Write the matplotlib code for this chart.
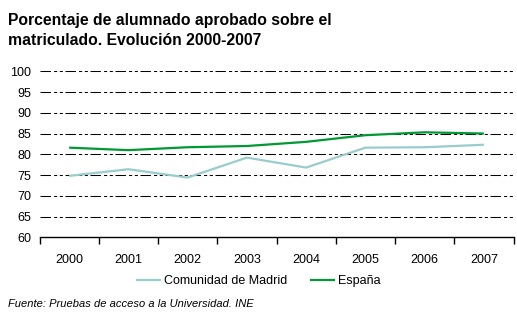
import matplotlib
matplotlib.use("Agg")
import matplotlib.pyplot as plt

years = ["2000", "2001", "2002", "2003", "2004", "2005", "2006", "2007"]
madrid = [74.8, 76.4, 74.4, 79.2, 76.8, 81.6, 81.7, 82.3]
espana = [81.6, 81.0, 81.7, 82.0, 83.0, 84.6, 85.3, 85.0]
yticks = [60, 65, 70, 75, 80, 85, 90, 95, 100]

plt.rcParams['font.family'] = ['Liberation Sans', 'DejaVu Sans']

W, H = 517, 321
fig = plt.figure(figsize=(W/100, H/100), dpi=100)
ax = fig.add_axes([39.5/W, 1 - 237.3/H, (513.5-39.5)/W, (237.3-71.3)/H])

x = list(range(len(years)))
ax.plot(x, madrid, color='#99CCCC', lw=1.6, label='Comunidad de Madrid', solid_capstyle='butt')
ax.plot(x, espana, color='#009933', lw=1.6, label='España', solid_capstyle='butt')

ax.set_xlim(-0.5, len(years) - 0.5)
ax.set_ylim(60, 100)
ax.set_yticks(yticks)
ax.set_yticklabels([str(v) for v in yticks], fontsize=9)
for v in yticks[1:]:
    ax.axhline(v, color='black', lw=0.75, ls=(0, (10, 3, 3, 2.5, 3, 2.5)), zorder=0)

ax.set_xticks([i - 0.5 for i in range(len(years) + 1)], minor=False)
ax.set_xticklabels([''] * (len(years) + 1))
ax.set_xticks(x, minor=True)
ax.set_xticklabels(years, minor=True, fontsize=9)
ax.tick_params(axis='x', which='major', direction='out', length=5, width=1, color='black')
ax.tick_params(axis='x', which='minor', length=0, pad=12)
ax.tick_params(axis='y', length=0, pad=6)

for s in ['top', 'right', 'left']:
    ax.spines[s].set_visible(False)
ax.spines['bottom'].set_color('black')
ax.spines['bottom'].set_linewidth(1)

fig.text(8/W, 1 - 25/H, "Porcentaje de alumnado aprobado sobre el",
         fontsize=11.3, fontweight='bold', va='baseline', ha='left')
fig.text(8/W, 1 - 45/H, "matriculado. Evolución 2000-2007",
         fontsize=11.3, fontweight='bold', va='baseline', ha='left')

fig.legend(loc='center', bbox_to_anchor=(0.5, 1 - 281/H), ncol=2, frameon=False,
           fontsize=9, handlelength=2.0, handletextpad=0.25, columnspacing=1.8)

fig.text(8/W, 1 - 304/H, "Fuente: Pruebas de acceso a la Universidad. INE",
         fontsize=8, style='italic', va='center', ha='left')

fig.savefig("out.png", dpi=100)
